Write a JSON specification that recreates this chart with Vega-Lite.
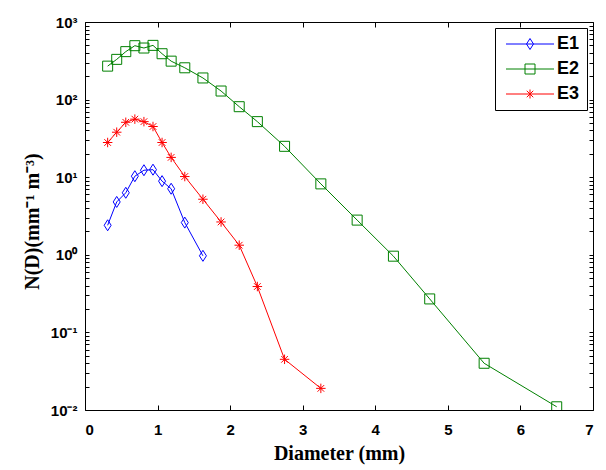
{
  "$schema": "https://vega.github.io/schema/vega-lite/v6.json",
  "width": 508,
  "height": 388,
  "autosize": "none",
  "padding": {"left": 85, "top": 22, "right": 13, "bottom": 60},
  "background": "white",
  "config": {
    "view": {"stroke": "black", "strokeWidth": 1},
    "axis": {"grid": false, "domain": false, "tickColor": "black", "labelColor": "black", "titleColor": "black"}
  },
  "data": {"values": [
    {"series": "E1", "d": 0.312, "n": 2.4},
    {"series": "E1", "d": 0.437, "n": 4.8},
    {"series": "E1", "d": 0.562, "n": 6.3},
    {"series": "E1", "d": 0.687, "n": 10.3},
    {"series": "E1", "d": 0.812, "n": 12.3},
    {"series": "E1", "d": 0.937, "n": 12.5},
    {"series": "E1", "d": 1.062, "n": 8.9},
    {"series": "E1", "d": 1.187, "n": 7.1},
    {"series": "E1", "d": 1.375, "n": 2.6},
    {"series": "E1", "d": 1.625, "n": 0.97},
    {"series": "E2", "d": 0.312, "n": 270},
    {"series": "E2", "d": 0.437, "n": 330},
    {"series": "E2", "d": 0.562, "n": 415},
    {"series": "E2", "d": 0.687, "n": 495},
    {"series": "E2", "d": 0.812, "n": 462},
    {"series": "E2", "d": 0.937, "n": 500},
    {"series": "E2", "d": 1.062, "n": 390},
    {"series": "E2", "d": 1.187, "n": 313},
    {"series": "E2", "d": 1.375, "n": 257},
    {"series": "E2", "d": 1.625, "n": 190},
    {"series": "E2", "d": 1.875, "n": 129},
    {"series": "E2", "d": 2.125, "n": 81},
    {"series": "E2", "d": 2.375, "n": 52},
    {"series": "E2", "d": 2.75, "n": 25},
    {"series": "E2", "d": 3.25, "n": 8.2},
    {"series": "E2", "d": 3.75, "n": 2.8},
    {"series": "E2", "d": 4.25, "n": 0.96},
    {"series": "E2", "d": 4.75, "n": 0.27},
    {"series": "E2", "d": 5.5, "n": 0.04},
    {"series": "E2", "d": 6.5, "n": 0.011},
    {"series": "E3", "d": 0.312, "n": 28},
    {"series": "E3", "d": 0.437, "n": 38},
    {"series": "E3", "d": 0.562, "n": 51},
    {"series": "E3", "d": 0.687, "n": 56},
    {"series": "E3", "d": 0.812, "n": 52},
    {"series": "E3", "d": 0.937, "n": 45},
    {"series": "E3", "d": 1.062, "n": 28},
    {"series": "E3", "d": 1.187, "n": 18},
    {"series": "E3", "d": 1.375, "n": 10.2},
    {"series": "E3", "d": 1.625, "n": 5.2},
    {"series": "E3", "d": 1.875, "n": 2.65},
    {"series": "E3", "d": 2.125, "n": 1.33},
    {"series": "E3", "d": 2.375, "n": 0.39},
    {"series": "E3", "d": 2.75, "n": 0.045},
    {"series": "E3", "d": 3.25, "n": 0.019}
  ]},
  "resolve": {"axis": {"x": "independent", "y": "independent"}},
  "layer": [
    {
      "mark": {"type": "line", "strokeWidth": 1, "clip": true},
      "encoding": {
        "x": {"field": "d", "type": "quantitative",
          "scale": {"domain": [0, 7], "nice": false, "zero": false},
          "axis": {"orient": "bottom", "values": [0, 1, 2, 3, 4, 5, 6, 7], "tickSize": -5, "labelPadding": 17,
            "labelFont": "Liberation Sans", "labelFontWeight": "bold", "labelFontSize": 15,
            "title": "Diameter (mm)", "titleFont": "Liberation Serif", "titleFontWeight": "bold", "titleFontSize": 20,
            "titleBaseline": "alphabetic", "titleY": 49, "titleX": 254, "titleAlign": "center"}},
        "y": {"field": "n", "type": "quantitative",
          "scale": {"type": "log", "domain": [0.01, 1000], "nice": false},
          "axis": {"orient": "left",
            "values": [0.01,0.02,0.03,0.04,0.05,0.06,0.07,0.08,0.09,0.1,0.2,0.3,0.4,0.5,0.6,0.7,0.8,0.9,1,2,3,4,5,6,7,8,9,10,20,30,40,50,60,70,80,90,100,200,300,400,500,600,700,800,900,1000],
            "labelExpr": "datum.value == 1000 ? '10³' : datum.value == 100 ? '10²' : datum.value == 10 ? '10¹' : datum.value == 1 ? '10⁰' : datum.value == 0.1 ? '10⁻¹' : datum.value == 0.01 ? '10⁻²' : ''",
            "tickSize": -4, "labelPadding": 12, "labelOverlap": false,
            "labelFont": "Liberation Sans", "labelFontWeight": "bold", "labelFontSize": 15,
            "title": "N(D)(mm⁻¹ m⁻³)", "titleFont": "Liberation Serif", "titleFontWeight": "bold", "titleFontSize": 20,
            "titleBaseline": "alphabetic", "titleX": -47, "titleY": 199, "titleAlign": "center", "titleAngle": 270}},
        "color": {"field": "series", "type": "nominal",
          "scale": {"domain": ["E1", "E2", "E3"], "range": ["#0000ff", "#008000", "#ff0000"]},
          "legend": {"orient": "none", "legendX": 410, "legendY": 6, "title": null,
            "fillColor": "white", "strokeColor": "black", "padding": 7,
            "symbolSize": 100, "symbolStrokeWidth": 1, "rowPadding": 7,
            "labelFont": "Liberation Sans", "labelFontWeight": "bold", "labelFontSize": 18, "labelColor": "black",
            "labelOffset": 37,
            "encode": {"symbols": {"update": {
              "fill": {"value": "transparent"},
              "shape": {"signal": "datum.value === 'E1' ? 'M-1,0H8.6M3.8,-1.1L4.5,0L3.8,1.1L3.1,0Z' : datum.value === 'E2' ? 'M-1,0H8.6M2.8,-1H4.8V1H2.8Z' : 'M-1,0H8.6M3.8,-0.9V0.9M3.15,-0.65L4.45,0.65M3.15,0.65L4.45,-0.65'"}
            }}}}}
      }
    },
    {
      "transform": [{"filter": "datum.series === 'E1'"}],
      "mark": {"type": "point", "filled": false, "strokeWidth": 1, "opacity": 1, "clip": true, "shape": "M0,-1.1L0.7,0L0,1.1L-0.7,0Z", "size": 100},
      "encoding": {
        "x": {"field": "d", "type": "quantitative", "axis": null},
        "y": {"field": "n", "type": "quantitative", "axis": null},
        "color": {"field": "series", "type": "nominal"}
      }
    },
    {
      "transform": [{"filter": "datum.series === 'E2'"}],
      "mark": {"type": "point", "filled": false, "strokeWidth": 1, "opacity": 1, "clip": true, "shape": "square", "size": 100},
      "encoding": {
        "x": {"field": "d", "type": "quantitative", "axis": null},
        "y": {"field": "n", "type": "quantitative", "axis": null},
        "color": {"field": "series", "type": "nominal"}
      }
    },
    {
      "transform": [{"filter": "datum.series === 'E3'"}],
      "mark": {"type": "point", "filled": false, "strokeWidth": 1, "opacity": 1, "clip": true, "shape": "M-1,0H1M0,-1V1M-0.7,-0.7L0.7,0.7M-0.7,0.7L0.7,-0.7", "size": 90},
      "encoding": {
        "x": {"field": "d", "type": "quantitative", "axis": null},
        "y": {"field": "n", "type": "quantitative", "axis": null},
        "color": {"field": "series", "type": "nominal"}
      }
    },
    {
      "mark": {"type": "point", "opacity": 0},
      "encoding": {
        "x": {"field": "d", "type": "quantitative",
          "axis": {"orient": "top", "values": [0, 1, 2, 3, 4, 5, 6, 7], "tickSize": -5, "labels": false, "title": null}},
        "y": {"field": "n", "type": "quantitative",
          "axis": {"orient": "right",
            "values": [0.01,0.02,0.03,0.04,0.05,0.06,0.07,0.08,0.09,0.1,0.2,0.3,0.4,0.5,0.6,0.7,0.8,0.9,1,2,3,4,5,6,7,8,9,10,20,30,40,50,60,70,80,90,100,200,300,400,500,600,700,800,900,1000],
            "tickSize": -4, "labels": false, "title": null}}
      }
    }
  ]
}
